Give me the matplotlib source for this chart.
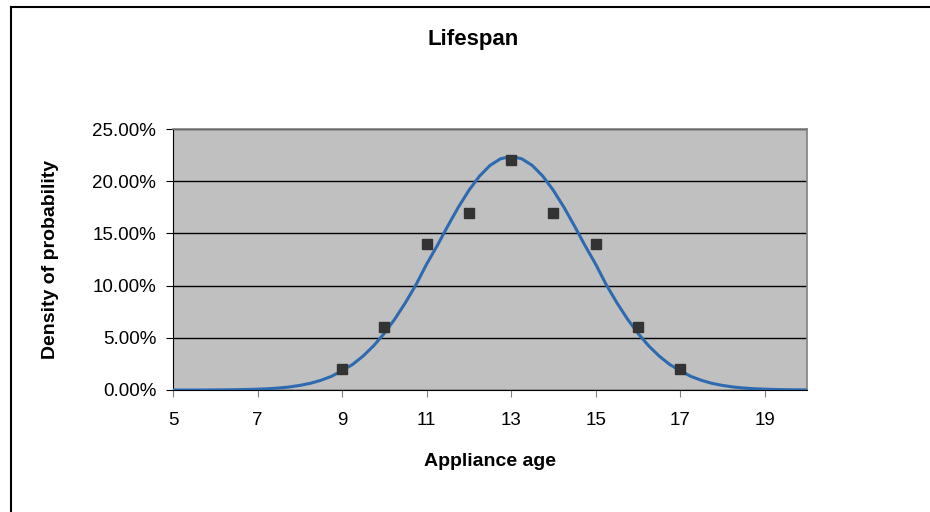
import matplotlib.pyplot as plt
from matplotlib.lines import Line2D
from matplotlib.ticker import PercentFormatter

plt.rcParams['font.family'] = ['Liberation Sans', 'DejaVu Sans']

edad_curva = [5 + 0.25 * i for i in range(61)]
densidad_curva = [
    0.0000, 0.0000, 0.0000, 0.0000, 0.0001, 0.0002, 0.0003, 0.0005,
    0.0008, 0.0012, 0.0019, 0.0029, 0.0044, 0.0064, 0.0093, 0.0131,
    0.0185, 0.0245, 0.0326, 0.0425, 0.0543, 0.0681, 0.0837, 0.1009,
    0.1205, 0.1382, 0.1570, 0.1750, 0.1912, 0.2048, 0.2151, 0.2215,
    0.2237,
    0.2215, 0.2151, 0.2048, 0.1912, 0.1750, 0.1570, 0.1382, 0.1205,
    0.1009, 0.0837, 0.0681, 0.0543, 0.0425, 0.0326, 0.0245, 0.0185,
    0.0131, 0.0093, 0.0064, 0.0044, 0.0029, 0.0019, 0.0012, 0.0008,
    0.0005, 0.0003, 0.0002, 0.0001,
]

# frecuencias observadas
edad_obs = [9, 10, 11, 12, 13, 14, 15, 16, 17]
frec_obs = [0.02, 0.06, 0.14, 0.17, 0.22, 0.17, 0.14, 0.06, 0.02]

fig = plt.figure(figsize=(9.3, 5.12), dpi=100)
ax = fig.add_axes([173 / 930, 1 - 390 / 512, 634 / 930, 261 / 512])

ax.set_facecolor('#c0c0c0')
ax.plot(edad_curva, densidad_curva, color='#2e6ab0', linewidth=2.2, zorder=3)
ax.plot(edad_obs, frec_obs, linestyle='', marker='s', markersize=7.5,
        color='#333333', zorder=4)

ax.set_xlim(5, 20)
ax.set_ylim(0, 0.25)
ax.set_xticks([5, 7, 9, 11, 13, 15, 17, 19])
ax.set_yticks([0, 0.05, 0.10, 0.15, 0.20, 0.25])
ax.yaxis.set_major_formatter(PercentFormatter(1.0, decimals=2))
ax.grid(axis='y', color='black', linewidth=1)
ax.set_axisbelow(True)

for lado in ['top', 'right']:
    ax.spines[lado].set_color('#808080')
    ax.spines[lado].set_linewidth(1.2)
ax.spines['left'].set_color('black')
ax.spines['bottom'].set_color('black')
ax.tick_params(axis='both', labelsize=13.5, length=5, direction='out', pad=7)
ax.tick_params(axis='x', color='#808080', pad=11)

ax.set_xlabel('Appliance age', fontsize=14, fontweight='bold', labelpad=17)
ax.set_ylabel('Density of probability', fontsize=14, fontweight='bold', labelpad=24)
fig.text(473 / 930, 1 - 40 / 512, 'Lifespan', ha='center', va='center',
         fontsize=16, fontweight='bold')

# marco del grafico
fig.add_artist(Line2D([11 / 930, 11 / 930], [0, 1 - 7 / 512], color='black',
                      linewidth=1.5, transform=fig.transFigure))
fig.add_artist(Line2D([11 / 930, 1], [1 - 7 / 512, 1 - 7 / 512], color='black',
                      linewidth=1.5, transform=fig.transFigure))

fig.savefig('out.png', dpi=100)
